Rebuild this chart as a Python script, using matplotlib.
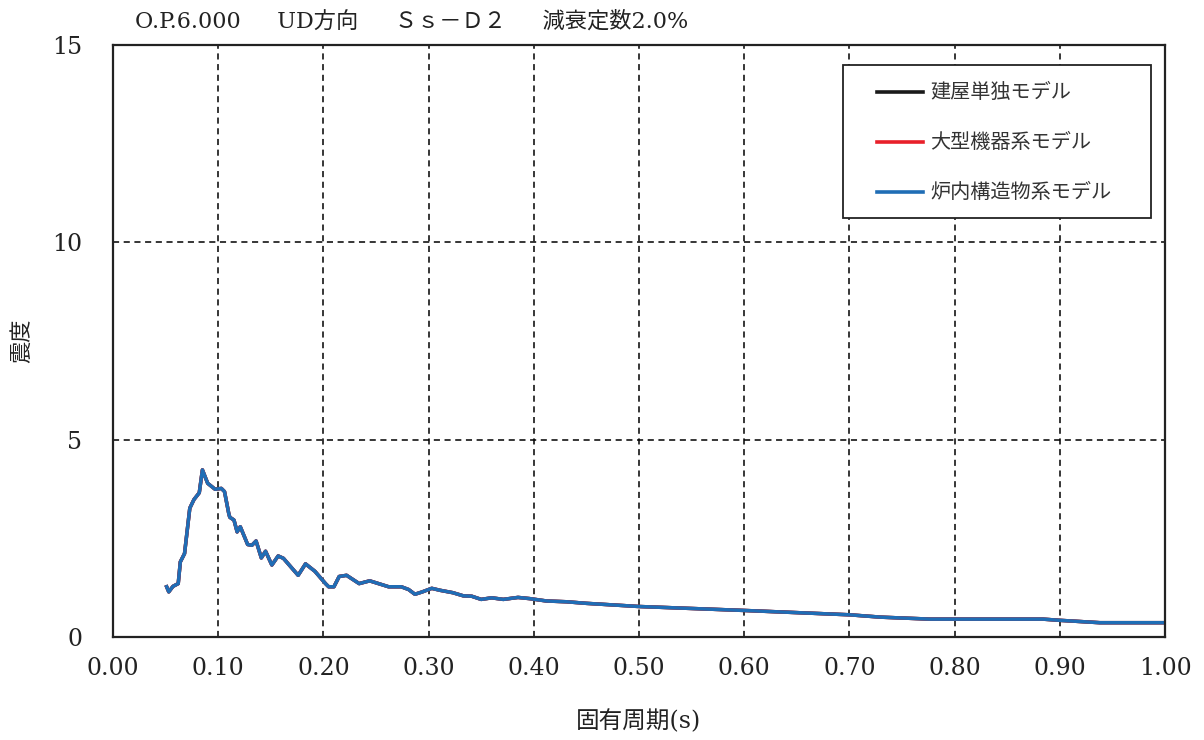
import matplotlib
matplotlib.use("Agg")
import matplotlib.pyplot as plt
from matplotlib.patches import Rectangle
from matplotlib.lines import Line2D

plt.rcParams['font.family'] = ['DejaVu Serif', 'Noto Sans CJK JP', 'DejaVu Sans']

# ---- data ----
period = [0.051, 0.053, 0.057, 0.062, 0.064, 0.068, 0.073, 0.077, 0.082, 0.085,
          0.090, 0.097, 0.103, 0.106, 0.110, 0.111, 0.115, 0.118, 0.121, 0.128,
          0.132, 0.136, 0.141, 0.145, 0.151, 0.157, 0.162, 0.176, 0.183, 0.192,
          0.202, 0.205, 0.210, 0.215, 0.222, 0.234, 0.244, 0.262, 0.274, 0.281,
          0.287, 0.294, 0.303, 0.311, 0.323, 0.333, 0.341, 0.350, 0.360, 0.371,
          0.385, 0.396, 0.412, 0.431, 0.450, 0.500, 0.600, 0.700, 0.730, 0.777,
          0.800, 0.884, 0.900, 0.938, 1.000]
blue_vals = [1.28, 1.15, 1.29, 1.36, 1.91, 2.12, 3.27, 3.49, 3.66, 4.24,
             3.90, 3.75, 3.77, 3.69, 3.14, 3.04, 2.97, 2.67, 2.80, 2.35,
             2.33, 2.44, 2.01, 2.18, 1.83, 2.06, 2.00, 1.57, 1.86, 1.67,
             1.36, 1.28, 1.28, 1.54, 1.57, 1.36, 1.43, 1.28, 1.28, 1.21,
             1.09, 1.15, 1.24, 1.19, 1.13, 1.05, 1.04, 0.96, 1.00, 0.96,
             1.01, 0.98, 0.92, 0.90, 0.86, 0.78, 0.68, 0.57, 0.51, 0.46,
             0.46, 0.46, 0.43, 0.37, 0.37]
building_vals = list(blue_vals)   # 建屋単独モデル (overlapping)
equipment_vals = list(blue_vals)  # 大型機器系モデル (overlapping)

series_labels = ['建屋単独モデル', '大型機器系モデル', '炉内構造物系モデル']
series_colors = ['#1a1a1a', '#e8202a', '#1f6db5']

xticks = [0.0, 0.1, 0.2, 0.3, 0.4, 0.5, 0.6, 0.7, 0.8, 0.9, 1.0]
xticklabels = ['0.00', '0.10', '0.20', '0.30', '0.40', '0.50', '0.60', '0.70', '0.80', '0.90', '1.00']
yticks = [0, 5, 10, 15]

title = 'O.P.6.000　  UD方向　  Ｓｓ－Ｄ２　  減衰定数2.0%'
xlabel = '固有周期(s)'
ylabel = '震度'

# ---- figure ----
fig = plt.figure(figsize=(12.04, 7.40), dpi=100)
ax = fig.add_axes([113/1204, 1-637.3/740, (1165-113)/1204, (637.3-45)/740])

series = [building_vals, equipment_vals, blue_vals]
for vals, lab, col in zip(series, series_labels, series_colors):
    ax.plot(period, vals, color=col, lw=2.5, label=lab, solid_joinstyle='round')

ax.set_xlim(0, 1.0)
ax.set_ylim(0, 15)
ax.set_xticks(xticks)
ax.set_xticklabels(xticklabels)
ax.set_yticks(yticks)
ax.tick_params(axis='both', length=0, labelsize=17, colors='#222222')
ax.tick_params(axis='x', pad=14)
ax.tick_params(axis='y', pad=22)

ax.grid(True, color='black', linestyle=(0, (4, 3)), lw=1.1)
ax.set_axisbelow(True)
for s in ax.spines.values():
    s.set_color('#222222')
    s.set_linewidth(1.6)

ax.set_xlabel(xlabel, fontsize=17, color='#222222')
ax.xaxis.set_label_coords(0.5, (637.3-709)/592.3)
ax.set_ylabel(ylabel, fontsize=16, color='#222222')
ax.yaxis.set_label_coords((22-113)/1052, 0.5)
ax.yaxis.label.set_va('center')

fig.text(135/1204, 1-22/740, title, fontsize=16, ha='left', va='center', color='#222222')

# ---- legend box ----
def ax_x(px):
    return (px - 113) / 1052
def ax_y(py):
    return (637.3 - py) / 592.3

box = Rectangle((ax_x(843), ax_y(218)), ax_x(1151)-ax_x(843), ax_y(65)-ax_y(218),
                transform=ax.transAxes, facecolor='white', edgecolor='#222222', lw=1.3, zorder=5)
ax.add_patch(box)
for i, (lab, col) in enumerate(zip(series_labels, series_colors)):
    yy = ax_y(92 + 50*i)
    ax.add_line(Line2D([ax_x(877), ax_x(923)], [yy, yy], transform=ax.transAxes,
                       color=col, lw=2.6, zorder=6))
    ax.text(ax_x(930), yy, lab, transform=ax.transAxes, fontsize=14.5,
            ha='left', va='center', color='#333333', zorder=6)

fig.savefig('out.png', dpi=100)
